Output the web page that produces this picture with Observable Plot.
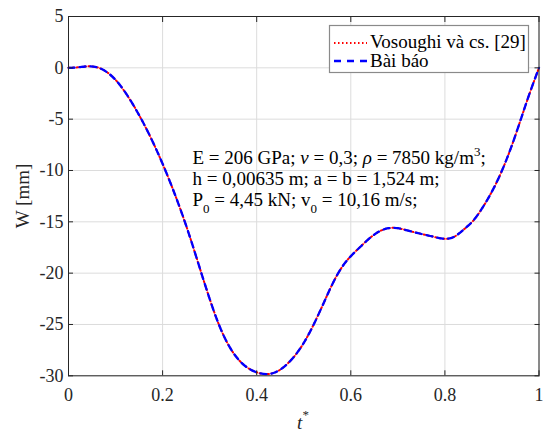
<!DOCTYPE html>
<html><head><meta charset="utf-8">
<script src="https://cdn.jsdelivr.net/npm/d3@7"></script>
<script src="https://cdn.jsdelivr.net/npm/@observablehq/plot@0.6"></script>
<style>
body{margin:0;background:#fff;}
#wrap{position:relative;width:548px;height:433px;}
#wrap svg.ov{position:absolute;left:0;top:0;pointer-events:none;}
</style></head><body><div id="wrap"></div>
<script>
const tValues = [0, 0.02, 0.04, 0.06, 0.08, 0.10, 0.12, 0.14, 0.16, 0.18, 0.20, 0.22, 0.24, 0.26, 0.28, 0.30, 0.32, 0.34, 0.36, 0.38, 0.40, 0.42, 0.44, 0.46, 0.48, 0.50, 0.52, 0.54, 0.56, 0.58, 0.60, 0.62, 0.64, 0.66, 0.68, 0.70, 0.72, 0.74, 0.76, 0.78, 0.80, 0.82, 0.84, 0.86, 0.88, 0.90, 0.92, 0.94, 0.96, 0.98, 1.00];
const wVosoughi = [0, 0.05, 0.14, 0.06, -0.37, -1.17, -2.35, -3.8, -5.45, -7.3, -9.35, -11.6, -14.05, -16.75, -19.65, -22.5, -25.05, -27.0, -28.35, -29.2, -29.66, -29.83, -29.65, -29.05, -28.1, -26.8, -25.1, -23.15, -21.15, -19.5, -18.35, -17.45, -16.6, -15.95, -15.62, -15.62, -15.84, -16.07, -16.29, -16.5, -16.66, -16.45, -15.75, -14.9, -13.62, -12.05, -10.15, -7.85, -5.2, -2.5, 0];
const wBaiBao = [0, 0.05, 0.14, 0.06, -0.37, -1.17, -2.35, -3.8, -5.45, -7.3, -9.35, -11.6, -14.05, -16.75, -19.65, -22.5, -25.05, -27.0, -28.35, -29.2, -29.66, -29.83, -29.65, -29.05, -28.1, -26.8, -25.1, -23.15, -21.15, -19.5, -18.35, -17.45, -16.6, -15.95, -15.62, -15.62, -15.84, -16.07, -16.29, -16.5, -16.66, -16.45, -15.75, -14.9, -13.62, -12.05, -10.15, -7.85, -5.2, -2.5, 0];
const xTicks = [0, 0.2, 0.4, 0.6, 0.8, 1];
const yTicks = [5, 0, -5, -10, -15, -20, -25, -30];
const seriesNames = ["Vosoughi và cs. [29]", "Bài báo"];
const yLabel = "W [mm]";

const dataV = tValues.map((t, i) => ({t, w: wVosoughi[i]}));
const dataB = tValues.map((t, i) => ({t, w: wBaiBao[i]}));

const W = 548, H = 433;
const ml = 68, mr = 9.5, mt = 16, mb = 57.7;
const axisColor = "#262626";
const fmt = d => String(d);

const chart = Plot.plot({
  width: W, height: H,
  marginLeft: ml, marginRight: mr, marginTop: mt, marginBottom: mb,
  style: {fontFamily: "'Liberation Serif','Times New Roman',serif", fontSize: "18px", color: axisColor, background: "#fff"},
  x: {domain: [0, 1]},
  y: {domain: [-30, 5]},
  marks: [
    Plot.gridX(xTicks, {stroke: "#dcdcdc", strokeOpacity: 1}),
    Plot.gridY(yTicks, {stroke: "#dcdcdc", strokeOpacity: 1}),
    Plot.line(dataV, {x: "t", y: "w", stroke: "#ff0000", strokeWidth: 2, strokeDasharray: "1.5,2.5", curve: "natural"}),
    Plot.line(dataB, {x: "t", y: "w", stroke: "#0000ff", strokeWidth: 2.3, strokeDasharray: "6,5", curve: "natural"}),
    Plot.axisX(xTicks, {anchor: "bottom", tickSize: 0, tickPadding: 12, tickFormat: fmt, label: null, fill: axisColor}),
    Plot.axisY(yTicks, {anchor: "left", tickSize: 0, tickPadding: 5, tickFormat: fmt, label: null, fill: axisColor}),
    Plot.axisX(xTicks, {anchor: "bottom", tickSize: -5, tickPadding: 0, tickFormat: () => "", label: null, stroke: axisColor}),
    Plot.axisX(xTicks, {anchor: "top", tickSize: -5, tickPadding: 0, tickFormat: () => "", label: null, stroke: axisColor}),
    Plot.axisY(yTicks, {anchor: "left", tickSize: -5, tickPadding: 0, tickFormat: () => "", label: null, stroke: axisColor}),
    Plot.axisY(yTicks, {anchor: "right", tickSize: -5, tickPadding: 0, tickFormat: () => "", label: null, stroke: axisColor}),
    Plot.frame({stroke: axisColor, strokeWidth: 1})
  ]
});
const wrap = document.getElementById("wrap");
wrap.appendChild(chart);

// overlay: legend, annotation, axis labels
const ov = d3.select(wrap).append("svg").attr("class", "ov")
  .attr("width", W).attr("height", H)
  .style("font-family", "'Liberation Serif','Times New Roman',serif")
  .style("font-size", "19px");

// legend
const lg = ov.append("g");
lg.append("rect").attr("x", 329.5).attr("y", 25.5).attr("width", 199).attr("height", 47)
  .attr("fill", "#fff").attr("stroke", "#8a8a8a").attr("stroke-width", 1.2);
lg.append("line").attr("x1", 334).attr("x2", 367).attr("y1", 43).attr("y2", 43)
  .attr("stroke", "#ff0000").attr("stroke-width", 2).attr("stroke-dasharray", "1.5,2.5");
lg.append("line").attr("x1", 334).attr("x2", 367).attr("y1", 61).attr("y2", 61)
  .attr("stroke", "#0000ff").attr("stroke-width", 2.3).attr("stroke-dasharray", "7,6");
lg.append("text").attr("x", 370).attr("y", 48).attr("fill", "#000").text(seriesNames[0]);
lg.append("text").attr("x", 370).attr("y", 67).attr("fill", "#000").text(seriesNames[1]);

// annotation
const ann = ov.append("g").attr("fill", "#000");
const t1 = ann.append("text").attr("x", 192.5).attr("y", 164);
t1.append("tspan").text("E = 206 GPa; ");
t1.append("tspan").attr("font-style", "italic").text("ν");
t1.append("tspan").text(" = 0,3; ");
t1.append("tspan").attr("font-style", "italic").text("ρ");
t1.append("tspan").text(" = 7850 kg/m");
t1.append("tspan").attr("dy", -8).attr("font-size", 13).text("3");
t1.append("tspan").attr("dy", 8).text(";");
ann.append("text").attr("x", 192.5).attr("y", 185).text("h = 0,00635 m; a = b = 1,524 m;");
const t3 = ann.append("text").attr("x", 192.5).attr("y", 206);
t3.append("tspan").text("P");
t3.append("tspan").attr("dy", 7).attr("font-size", 13).text("0");
t3.append("tspan").attr("dy", -7).text(" = 4,45 kN; v");
t3.append("tspan").attr("dy", 7).attr("font-size", 13).text("0");
t3.append("tspan").attr("dy", -7).text(" = 10,16 m/s;");

// axis labels
ov.append("text").attr("transform", "translate(25,196) rotate(-90)")
  .attr("text-anchor", "middle").attr("dominant-baseline", "middle")
  .attr("fill", axisColor).text(yLabel);
const xl = ov.append("text").attr("x", 303).attr("y", 429).attr("text-anchor", "middle").attr("fill", axisColor);
xl.append("tspan").attr("font-style", "italic").text("t");
xl.append("tspan").attr("dy", -10).attr("font-size", 13).text("*");
</script>
</body></html>
